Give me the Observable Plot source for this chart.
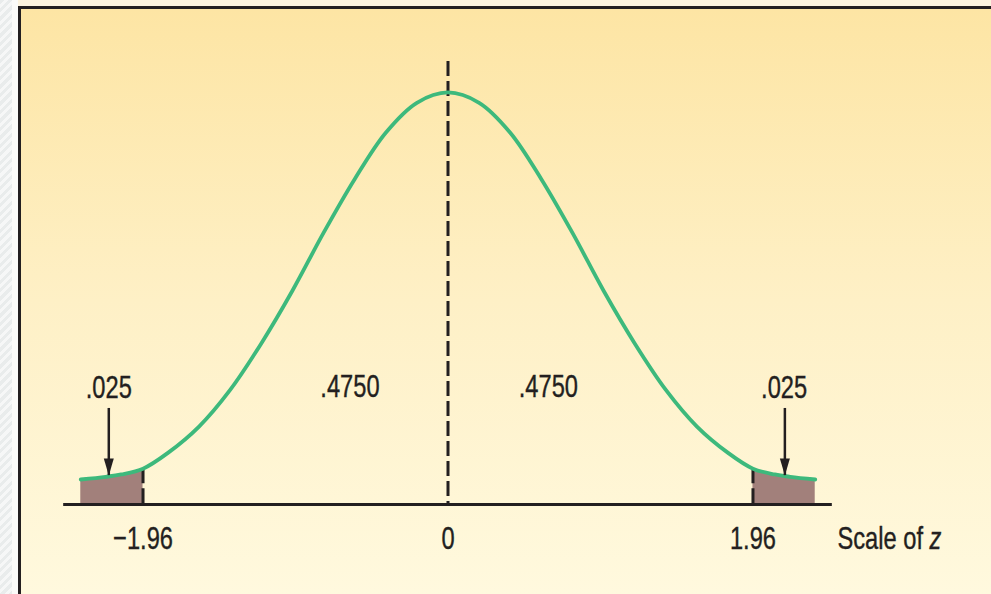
<!DOCTYPE html>
<html>
<head>
<meta charset="utf-8">
<script src="https://cdn.jsdelivr.net/npm/d3@7"></script>
<script src="https://cdn.jsdelivr.net/npm/@observablehq/plot@0.6"></script>
<style>
  body { margin: 0; background: #fff; }
  #wrap { position: relative; width: 991px; height: 594px; overflow: hidden; background: #FCF3DE; }
  #strip { position: absolute; left: 0; top: 0; width: 12px; height: 594px;
    background: repeating-linear-gradient(135deg, #E9ECEC 0 3px, #F6F7F7 3px 6px); }
  #strip2 { position: absolute; left: 12px; top: 0; width: 6px; height: 594px; background: #FBFBF9; }
  #panel { position: absolute; left: 18px; top: 6px; right: 0; bottom: 0;
    border-top: 3px solid #231F20; border-left: 3px solid #231F20;
    background: linear-gradient(#FDE5A4, #FEF0C6 50%, #FFF9DE); }
  #chart { position: absolute; left: 0; top: 0; }
  #chart svg { background: transparent; overflow: visible; }
</style>
</head>
<body>
<div id="wrap">
  <div id="strip"></div>
  <div id="strip2"></div>
  <div id="panel"></div>
  <div id="chart"></div>
</div>
<script>
// Curve: z value and curve height (density units)
const curveZ = [-2.36, -2.2, -2.1, -1.96, -1.8, -1.6, -1.4, -1.2, -1.0, -0.8, -0.6, -0.4, -0.2, 0,
                 0.2, 0.4, 0.6, 0.8, 1.0, 1.2, 1.4, 1.6, 1.8, 1.96, 2.1, 2.2, 2.36];
const curveDensity = [0.0242, 0.0268, 0.0291, 0.0347, 0.0500, 0.0755, 0.111, 0.156, 0.207, 0.263, 0.315, 0.360, 0.389, 0.399,
                      0.389, 0.360, 0.315, 0.263, 0.207, 0.156, 0.111, 0.0755, 0.0500, 0.0347, 0.0291, 0.0268, 0.0242];

// Axis ticks
const tickValues = [-1.96, 0, 1.96];
const tickLabels = ["\u22121.96", "0", "1.96"];
const axisTitle = "Scale of ";
const axisTitleVar = "z";
const axisExtent = [-2.47, 2.47];
const centerLineTop = 0.429;

// Area labels
const areaLabels = [".025", ".4750", ".4750", ".025"];
const areaLabelZ = [-2.18, -0.63, 0.645, 2.16];
const areaLabelY = [0.113, 0.114, 0.114, 0.113];

// Arrows pointing at the tails
const arrowZ = [-2.18, 2.165];
const arrowTop = [0.093, 0.093];
const arrowTip = [0.028, 0.028];

const curve = curveZ.map((z, i) => ({z, d: curveDensity[i]}));
const tailLeft = curve.filter(p => p.z <= -1.96);
const tailRight = curve.filter(p => p.z >= 1.96);
const tickRows = tickValues.map((v, i) => ({v, label: tickLabels[i]}));
const cutRows = tickValues.filter(v => v !== 0).map(v => ({v, top: curve.find(p => p.z === v).d}));
const labelRows = areaLabels.map((t, i) => ({t, z: areaLabelZ[i], y: areaLabelY[i]}));
const arrowRows = arrowZ.map((z, i) => ({z, top: arrowTop[i], tip: arrowTip[i]}));

const ink = "#231F20";
const green = "#3DB97C";
const tailFill = "#A2807B";
const font = "'Liberation Sans', Arial, sans-serif";
const fs = 32;

const arrowHead = {
  draw(ctx) {
    ctx.moveTo(-5, -17);
    ctx.lineTo(5, -17);
    ctx.lineTo(0, 0);
    ctx.closePath();
  }
};

const chart = Plot.plot({
  width: 991,
  height: 594,
  marginLeft: 58.5,
  marginRight: 154.5,
  marginTop: 39.3,
  marginBottom: 90,
  style: {background: "transparent", fontFamily: font},
  x: {domain: [-2.5, 2.5], axis: null},
  y: {domain: [0, 0.45], axis: null},
  marks: [
    Plot.areaY(tailLeft, {x: "z", y: "d", fill: tailFill, curve: "catmull-rom"}),
    Plot.areaY(tailRight, {x: "z", y: "d", fill: tailFill, curve: "catmull-rom"}),
    Plot.ruleX(cutRows, {x: "v", y1: "top", y2: 0, stroke: ink, strokeWidth: 3, strokeDasharray: "15,5"}),
    Plot.ruleX([0], {x: d => d, y1: centerLineTop, y2: 0, stroke: ink, strokeWidth: 3, strokeDasharray: "15,5"}),
    Plot.line(curve, {x: "z", y: "d", stroke: green, strokeWidth: 3.8, curve: "catmull-rom"}),
    Plot.ruleX(arrowRows, {x: "z", y1: "top", y2: "tip", stroke: ink, strokeWidth: 2.5}),
    Plot.dot(arrowRows, {x: "z", y: "tip", symbol: arrowHead, fill: ink, stroke: "none", r: 1}),
    Plot.ruleY([0], {y: d => d, x1: axisExtent[0], x2: axisExtent[1], stroke: ink, strokeWidth: 3}),
    Plot.text(labelRows, {x: "z", y: "y", text: "t", fill: ink, fontSize: fs, lineAnchor: "middle", className: "cond"}),
    Plot.text(tickRows, {x: "v", y: 0, text: "label", fill: ink, fontSize: fs, dy: 34, lineAnchor: "middle", className: "cond"}),
    Plot.text([axisTitle], {x: 2.503, y: 0, text: d => d, fill: ink, fontSize: fs, dy: 34, lineAnchor: "middle", textAnchor: "start", className: "cond axis-title"})
  ]
});

document.getElementById("chart").appendChild(chart);
d3.select(chart).selectAll(".axis-title text").each(function() {
  d3.select(this).append("tspan").attr("font-style", "italic").text(axisTitleVar);
});
// condense the label type (narrow grotesque look of the reference)
const squeeze = 0.74;
d3.select(chart).selectAll(".cond text").each(function() {
  const anchor = this.getAttribute("text-anchor") || getComputedStyle(this).textAnchor || "middle";
  const b = this.getBBox();
  const ax = anchor === "start" ? b.x : anchor === "end" ? b.x + b.width : b.x + b.width / 2;
  const t = this.getAttribute("transform") || "";
  this.setAttribute("transform", `${t} translate(${ax},0) scale(${squeeze},1) translate(${-ax},0)`);
  this.setAttribute("stroke", ink);
  this.setAttribute("stroke-width", "0.4");
});
</script>
</body>
</html>
